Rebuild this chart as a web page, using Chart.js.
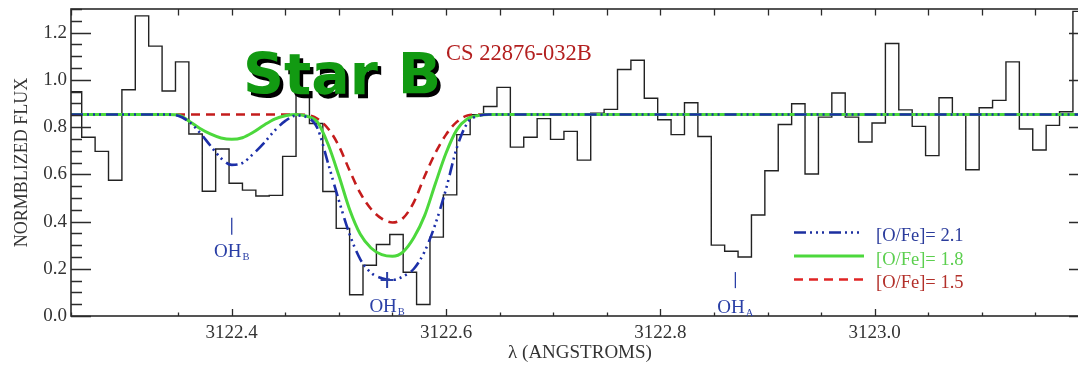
<!DOCTYPE html>
<html><head><meta charset="utf-8">
<script src="https://cdn.jsdelivr.net/npm/chart.js@4.4.1/dist/chart.umd.min.js"></script>
<style>html,body{margin:0;padding:0;background:#fff;overflow:hidden;width:1078px;height:365px}canvas{display:block}</style>
</head><body>
<canvas id="c" width="1100" height="365" style="width:1100px;height:365px"></canvas>
<script>
// ---- observed spectrum (bin centres, Angstrom) and normalized flux ----
const binCenters = [
 3122.25375,3122.26625,3122.27875,3122.29125,3122.30375,3122.31625,3122.32875,3122.34125,3122.35375,3122.36625,
 3122.37875,3122.39125,3122.40375,3122.41625,3122.42875,3122.44125,3122.45375,3122.46625,3122.47875,3122.49125,
 3122.50375,3122.51625,3122.52875,3122.54125,3122.55375,3122.56625,3122.57875,3122.59125,3122.60375,3122.61625,
 3122.62875,3122.64125,3122.65375,3122.66625,3122.67875,3122.69125,3122.70375,3122.71625,3122.72875,3122.74125,
 3122.75375,3122.76625,3122.77875,3122.79125,3122.80375,3122.81625,3122.82875,3122.84125,3122.85375,3122.86625,
 3122.87875,3122.89125,3122.90375,3122.91625,3122.92875,3122.94125,3122.95375,3122.96625,3122.97875,3122.99125,
 3123.00375,3123.01625,3123.02875,3123.04125,3123.05375,3123.06625,3123.07875,3123.09125,3123.10375,3123.11625,
 3123.12875,3123.14125,3123.15375,3123.16625,3123.17875,3123.19125];
const BIN_WIDTH = 0.0125;
const flux = [
 0.950,0.757,0.697,0.575,0.958,1.271,1.143,0.953,1.076,0.771,
 0.528,0.707,0.562,0.533,0.508,0.511,0.676,0.935,0.815,0.527,
 0.371,0.090,0.215,0.303,0.345,0.185,0.049,0.334,0.513,0.768,
 0.852,0.887,0.968,0.715,0.757,0.836,0.748,0.782,0.660,0.859,
 0.875,1.044,1.083,0.922,0.831,0.768,0.903,0.760,0.300,0.274,
 0.250,0.428,0.615,0.811,0.899,0.601,0.842,0.944,0.842,0.737,
 0.817,1.154,0.873,0.803,0.679,0.924,0.854,0.619,0.882,0.913,
 1.076,0.792,0.703,0.807,0.865,1.290];

// ---- synthetic spectra ----
const modelWave = [3122.25,3122.34,3122.35,3122.36,3122.37,3122.38,3122.39,3122.40,3122.41,3122.42,3122.43,
 3122.44,3122.45,3122.46,3122.47,3122.48,3122.49,3122.50,3122.51,3122.52,3122.53,3122.54,3122.55,3122.56,
 3122.57,3122.58,3122.59,3122.60,3122.61,3122.62,3122.63,3122.64,3122.65,3123.20];
const model21 = [0.853,0.853,0.848,0.823,0.778,0.722,0.668,0.640,0.648,0.686,0.732,
 0.785,0.826,0.849,0.842,0.795,0.645,0.489,0.346,0.240,0.183,0.160,0.153,0.168,
 0.200,0.273,0.389,0.538,0.712,0.818,0.847,0.853,0.853,0.853];
const model18 = [0.853,0.853,0.851,0.826,0.795,0.771,0.754,0.748,0.755,0.778,0.808,
 0.834,0.848,0.853,0.846,0.821,0.726,0.594,0.451,0.346,0.288,0.260,0.253,0.272,
 0.332,0.425,0.560,0.690,0.788,0.835,0.849,0.853,0.853,0.853];
const model15 = [0.853,0.853,0.853,0.853,0.853,0.853,0.853,0.853,0.853,0.853,0.853,
 0.853,0.853,0.853,0.851,0.835,0.793,0.720,0.616,0.520,0.453,0.412,0.396,0.415,
 0.482,0.592,0.690,0.768,0.822,0.849,0.853,0.853,0.853,0.853];
const modelLabels = ['[O/Fe]= 2.1','[O/Fe]= 1.8','[O/Fe]= 1.5'];

// ---- line identifications ----
const ohWave = [3122.40, 3122.545, 3122.87];
const ohName = ['OH','OH','OH'];
const ohBranch = ['B','B','A'];

// ---- tick labels ----
const xTickLabels = ['3122.4','3122.6','3122.8','3123.0'];
const yTickLabels = ['0.0','0.2','0.4','0.6','0.8','1.0','1.2'];

const histPoints = [];
binCenters.forEach((c, i) => {
  histPoints.push({x: c - BIN_WIDTH / 2, y: flux[i]});
  histPoints.push({x: c + BIN_WIDTH / 2, y: flux[i]});
});
const pts = arr => modelWave.map((w, i) => ({x: w, y: arr[i]}));

const SERIF = '"Liberation Serif", "Times New Roman", serif';

const annotate = {
  id: 'annotate',
  afterDraw(chart) {
    const {ctx, chartArea: a, scales: {x, y}} = chart;
    ctx.save();
    ctx.strokeStyle = '#2b2b2b';
    ctx.lineWidth = 1.3;
    ctx.beginPath();
    x.ticks.forEach(t => {
      const px = Math.round(x.getPixelForValue(t.value)) + 0.5;
      const major = t.label !== '';
      ctx.moveTo(px, a.bottom); ctx.lineTo(px, a.bottom - (major ? 7 : 3.5));
      ctx.moveTo(px, a.top); ctx.lineTo(px, a.top + 6.5);
    });
    y.ticks.forEach(t => {
      const py = Math.round(y.getPixelForValue(t.value)) + 0.5;
      const major = t.label !== '';
      ctx.moveTo(a.left, py); ctx.lineTo(a.left + (major ? 20 : 11), py);
      ctx.moveTo(a.right, py); ctx.lineTo(a.right - (major ? 20 : 11), py);
    });
    ctx.stroke();
    ctx.lineWidth = 1.6;
    ctx.strokeRect(a.left, a.top, a.right - a.left, a.bottom - a.top);

    // Star B
    ctx.font = 'bold 57px "DejaVu Sans", sans-serif';
    ctx.textAlign = 'left'; ctx.textBaseline = 'alphabetic';
    ctx.fillStyle = '#000';
    ctx.fillText('Star B', 246.5, 97.5);
    ctx.fillStyle = '#129a12';
    ctx.fillText('Star B', 243, 94);

    // star id
    ctx.font = '22.5px ' + SERIF;
    ctx.fillStyle = '#b31f1f';
    ctx.fillText('CS 22876-032B', 446, 60);

    // OH identifications
    const marks = [
      {type: 'bar', f0: 0.344, f1: 0.416, text: 0.249},
      {type: 'plus', f0: 0.152, text: 0.017},
      {type: 'bar', f0: 0.118, f1: 0.186, text: 0.013}
    ];
    ohWave.forEach((w, i) => {
      const px = x.getPixelForValue(w);
      const m = marks[i];
      ctx.strokeStyle = '#2a3fa6';
      ctx.fillStyle = '#2a3fa6';
      ctx.beginPath();
      if (m.type === 'bar') {
        ctx.lineWidth = 1.3;
        ctx.moveTo(px, y.getPixelForValue(m.f1)); ctx.lineTo(px, y.getPixelForValue(m.f0));
      } else {
        ctx.lineWidth = 2;
        const py = y.getPixelForValue(m.f0);
        ctx.moveTo(px - 6.5, py); ctx.lineTo(px + 6.5, py);
        ctx.moveTo(px, py - 8); ctx.lineTo(px, py + 8);
      }
      ctx.stroke();
      ctx.font = '19px ' + SERIF;
      const w1 = ctx.measureText(ohName[i]).width;
      ctx.font = '10.5px ' + SERIF;
      const w2 = ctx.measureText(ohBranch[i]).width;
      const x0 = px - (w1 + w2 + 1) / 2;
      const by = y.getPixelForValue(m.text);
      ctx.font = '19px ' + SERIF;
      ctx.fillText(ohName[i], x0, by);
      ctx.font = '10.5px ' + SERIF;
      ctx.fillText(ohBranch[i], x0 + w1 + 1, by + 3);
    });

    // legend
    const rows = [232.5, 256, 279.5];
    const textCol = ['#2b3c9c', '#5ccf4f', '#b3302a'];
    const lineCol = ['#1c2fa0', '#4cd83c', '#e02424'];
    chart.data.datasets.slice(0, 3).forEach((ds, i) => {
      ctx.strokeStyle = lineCol[i];
      ctx.lineWidth = ds.borderWidth;
      ctx.setLineDash(ds.borderDash || []);
      ctx.beginPath();
      ctx.moveTo(794, rows[i]); ctx.lineTo(864, rows[i]);
      ctx.stroke();
      ctx.setLineDash([]);
      ctx.font = '18.5px ' + SERIF;
      ctx.fillStyle = textCol[i];
      ctx.fillText(ds.label, 876, rows[i] + 8.5);
    });
    ctx.restore();
  }
};

const noPad = s => { s.paddingTop = 0; s.paddingBottom = 0; s.paddingLeft = 0; s.paddingRight = 0; };

new Chart(document.getElementById('c'), {
  type: 'line',
  data: {
    datasets: [
      {label: modelLabels[0], data: pts(model21), borderColor: '#1c2fa8', borderWidth: 2.6,
       borderDash: [12, 4, 2, 4, 2, 4, 2, 5], cubicInterpolationMode: 'monotone', pointRadius: 0, fill: false},
      {label: modelLabels[1], data: pts(model18), borderColor: '#4cd83c', borderWidth: 3,
       cubicInterpolationMode: 'monotone', pointRadius: 0, fill: false},
      {label: modelLabels[2], data: pts(model15), borderColor: '#c41c1c', borderWidth: 2.6,
       borderDash: [9, 6], cubicInterpolationMode: 'monotone', pointRadius: 0, fill: false},
      {label: 'observed', data: histPoints, borderColor: '#222', borderWidth: 1.4,
       pointRadius: 0, fill: false, tension: 0}
    ]
  },
  options: {
    responsive: false,
    animation: false,
    devicePixelRatio: 1,
    layout: {padding: {left: 0, right: 11, top: 9, bottom: 0}},
    plugins: {legend: {display: false}, tooltip: {enabled: false}},
    scales: {
      x: {
        type: 'linear', min: 3122.25, max: 3123.2,
        border: {display: false},
        grid: {display: false, drawTicks: false},
        ticks: {
          stepSize: 0.05, autoSkip: false, maxRotation: 0, minRotation: 0, padding: 6,
          font: {family: SERIF, size: 19}, color: '#333',
          callback: v => { const s = v.toFixed(1); return (Math.abs(v - Number(s)) < 1e-6 && xTickLabels.includes(s)) ? s : ''; }
        },
        title: {display: true, text: 'λ (ANGSTROMS)', font: {family: SERIF, size: 19}, color: '#333', padding: {top: 0, bottom: 1}},
        afterFit: s => { s.height = 49; noPad(s); }
      },
      y: {
        min: 0, max: 1.3,
        border: {display: false},
        grid: {display: false, drawTicks: false},
        ticks: {
          stepSize: 0.05, autoSkip: false, padding: 4,
          font: {family: SERIF, size: 19}, color: '#333',
          callback: v => { const s = v.toFixed(1); return (Math.abs(v - Number(s)) < 1e-6 && yTickLabels.includes(s)) ? s : ''; }
        },
        title: {display: true, text: 'NORMBLIZED FLUX', font: {family: SERIF, size: 18}, color: '#333', padding: {top: 11, bottom: 0}},
        afterFit: s => { s.width = 71; noPad(s); }
      }
    }
  },
  plugins: [annotate]
});
</script>
</body></html>
